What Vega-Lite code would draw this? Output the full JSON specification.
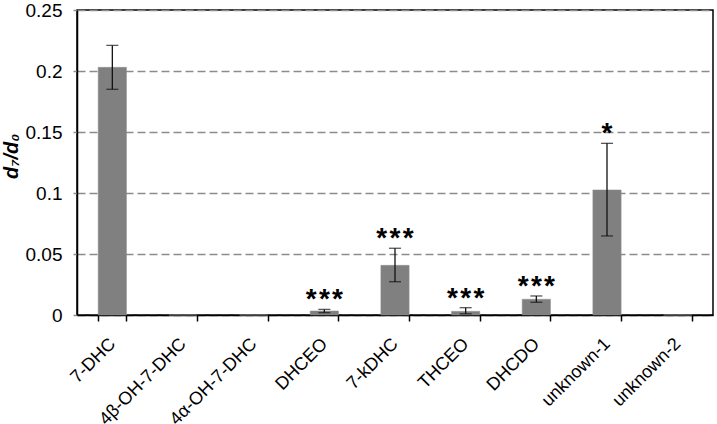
{
  "$schema": "https://vega.github.io/schema/vega-lite/v6.json",
  "width": 636,
  "height": 305,
  "autosize": {"type": "none"},
  "padding": {"left": 77, "top": 10, "right": 4, "bottom": 109},
  "background": "white",
  "config": {
    "font": "Liberation Sans",
    "view": {"stroke": "black", "strokeWidth": 1.5}
  },
  "data": {
    "values": [
      {"compound": "7-DHC", "value": 0.203, "lo": 0.185, "hi": 0.221, "sig": ""},
      {"compound": "4β-OH-7-DHC", "value": 0, "lo": null, "hi": null, "sig": ""},
      {"compound": "4α-OH-7-DHC", "value": 0, "lo": null, "hi": null, "sig": ""},
      {"compound": "DHCEO", "value": 0.0033, "lo": 0.0019, "hi": 0.0046, "sig": "*\u200a*\u200a*"},
      {"compound": "7-kDHC", "value": 0.0407, "lo": 0.0273, "hi": 0.0547, "sig": "*\u200a*\u200a*"},
      {"compound": "THCEO", "value": 0.003, "lo": 0.001, "hi": 0.006, "sig": "*\u200a*\u200a*"},
      {"compound": "DHCDO", "value": 0.0129, "lo": 0.0104, "hi": 0.0156, "sig": "*\u200a*\u200a*"},
      {"compound": "unknown-1", "value": 0.1025, "lo": 0.0648, "hi": 0.1407, "sig": "*"},
      {"compound": "unknown-2", "value": 0, "lo": null, "hi": null, "sig": ""}
    ]
  },
  "encoding": {
    "x": {
      "field": "compound",
      "type": "nominal",
      "sort": null,
      "scale": {"paddingInner": 0.6, "paddingOuter": 0.3},
      "axis": {
        "title": null,
        "labelAngle": -45,
        "labelAlign": "right",
        "labelBaseline": "middle",
        "labelFontSize": 18,
        "labelColor": "black",
        "labelPadding": 20,
        "tickBand": "extent",
        "tickColor": "black",
        "tickSize": 6,
        "tickWidth": 1.5,
        "domainColor": "black",
        "domainWidth": 1.5,
        "grid": false
      }
    }
  },
  "layer": [
    {
      "mark": {"type": "bar", "color": "#808080", "stroke": "#8c8c8c", "strokeWidth": 0.5},
      "encoding": {
        "y": {
          "field": "value",
          "type": "quantitative",
          "scale": {"domain": [0, 0.25], "nice": false},
          "axis": {
            "values": [0, 0.05, 0.1, 0.15, 0.2, 0.25],
            "format": "~g",
            "title": "d₇/d₀",
            "titleFontSize": 20,
            "titleFontWeight": "bold",
            "titleFontStyle": "italic",
            "titleColor": "black",
            "titlePadding": 4,
            "titleY": 146,
            "labelFontSize": 19,
            "labelColor": "black",
            "labelPadding": 8,
            "tickColor": "#909090",
            "tickSize": 7,
            "tickDash": [4, 3],
            "tickWidth": 1.5,
            "domainColor": "black",
            "domainWidth": 1.5,
            "grid": true,
            "gridColor": "#8c8c8c",
            "gridDash": [8, 4],
            "gridWidth": 1.5
          }
        }
      }
    },
    {
      "mark": {"type": "rule", "color": "#111111", "strokeWidth": 1.3},
      "encoding": {
        "y": {"field": "lo", "type": "quantitative"},
        "y2": {"field": "hi"}
      }
    },
    {
      "mark": {"type": "tick", "color": "#111111", "thickness": 1.3, "size": 12, "orient": "horizontal"},
      "encoding": {"y": {"field": "lo", "type": "quantitative"}}
    },
    {
      "mark": {"type": "tick", "color": "#111111", "thickness": 1.3, "size": 12, "orient": "horizontal"},
      "encoding": {"y": {"field": "hi", "type": "quantitative"}}
    },
    {
      "mark": {"type": "text", "fontSize": 28, "fontWeight": "bold", "color": "black", "baseline": "alphabetic", "dy": -1},
      "encoding": {
        "y": {"field": "hi", "type": "quantitative"},
        "text": {"field": "sig"}
      }
    }
  ]
}
